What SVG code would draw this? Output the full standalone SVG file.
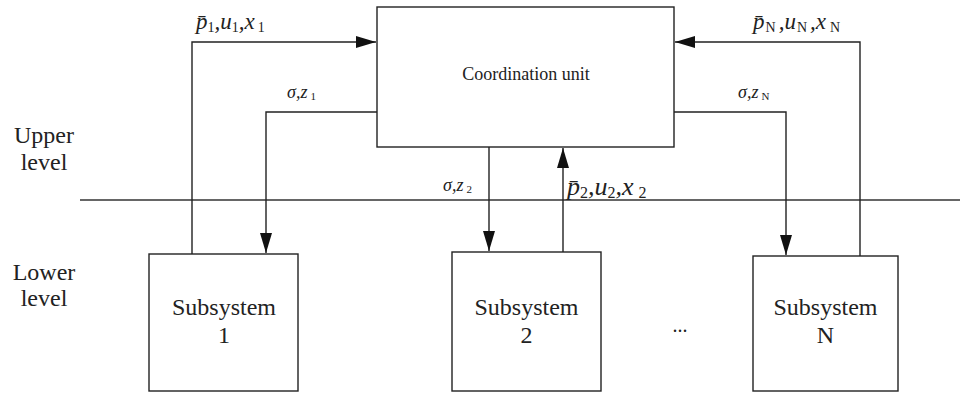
<svg xmlns="http://www.w3.org/2000/svg" width="960" height="393" viewBox="0 0 960 393">
<style>
.box{fill:#fff;stroke:#222;stroke-width:1.4}
.ln{fill:none;stroke:#222;stroke-width:1.4}
text{font-family:"Liberation Serif","Times New Roman",serif;fill:#222}
.lab{font-size:24px;text-anchor:middle}
.lvl{font-size:24px;text-anchor:middle}
.m{font-style:italic;font-size:23px}
.ms{font-style:italic;font-size:18px}
.sub{font-size:14px;font-style:normal}
.sub2{font-size:11px;font-style:normal}
</style>
<defs>
<marker id="ah" markerUnits="userSpaceOnUse" markerWidth="20" markerHeight="12" refX="20" refY="6" orient="auto">
<path d="M0,0 L20,6 L0,12 z" fill="#111"/>
</marker>
</defs>
<rect width="960" height="393" fill="#fff"/>
<g id="levels">
<text class="lvl" x="44" y="143">Upper</text>
<text class="lvl" x="44" y="170">level</text>
<text class="lvl" x="44" y="280">Lower</text>
<text class="lvl" x="44" y="306">level</text>
<line x1="80" y1="200" x2="960" y2="200" stroke="#333" stroke-width="1.4"/>
</g>
<g id="connectors">
<polyline class="ln" points="192,254 192,42 376,42" marker-end="url(#ah)"/>
<polyline class="ln" points="377,112 266,112 266,253" marker-end="url(#ah)"/>
<line class="ln" x1="489" y1="147" x2="489" y2="251" marker-end="url(#ah)"/>
<line class="ln" x1="563" y1="252" x2="563" y2="148" marker-end="url(#ah)"/>
<polyline class="ln" points="674,112 786,112 786,255" marker-end="url(#ah)"/>
<polyline class="ln" points="860,256 860,42 675,42" marker-end="url(#ah)"/>
</g>
<g id="labels">
<text class="m" x="196" y="29">p̄<tspan class="sub" dy="3">1</tspan><tspan dy="-3">,u</tspan><tspan class="sub" dy="3">1</tspan><tspan dy="-3">,x</tspan><tspan class="sub" dy="3" dx="3">1</tspan></text>
<text class="ms" x="287" y="98">σ,z<tspan class="sub2" dy="2" dx="3">1</tspan></text>
<text class="ms" x="443" y="191">σ,z<tspan class="sub2" dy="2" dx="3">2</tspan></text>
<text class="m" x="567" y="195" style="font-size:26px">p̄<tspan class="sub" dy="3" style="font-size:16px">2</tspan><tspan dy="-3">,u</tspan><tspan class="sub" dy="3" style="font-size:16px">2</tspan><tspan dy="-3">,x</tspan><tspan class="sub" dy="3" dx="5" style="font-size:16px">2</tspan></text>
<text class="ms" x="738" y="98">σ,z<tspan class="sub2" dy="2" dx="3">N</tspan></text>
<text class="m" x="753" y="29">p̄<tspan class="sub" dy="3" dx="1">N</tspan><tspan dy="-3" dx="3">,u</tspan><tspan class="sub" dy="3" dx="1">N</tspan><tspan dy="-3" dx="3">,x</tspan><tspan class="sub" dy="3" dx="4">N</tspan></text>
</g>
<g id="coordination">
<rect class="box" x="377" y="7" width="297" height="140"/>
<text class="lab" x="526" y="80" style="font-size:18px">Coordination unit</text>
</g>
<g id="subsystem1">
<rect class="box" x="149" y="254" width="149" height="137"/>
<text class="lab" x="224" y="315">Subsystem</text>
<text class="lab" x="224" y="343">1</text>
</g>
<g id="subsystem2">
<rect class="box" x="452" y="252" width="149" height="139"/>
<text class="lab" x="526.5" y="315">Subsystem</text>
<text class="lab" x="526.5" y="343">2</text>
</g>
<g id="dots">
<text x="680" y="332" font-size="20" text-anchor="middle">...</text>
</g>
<g id="subsystemN">
<rect class="box" x="753" y="256" width="145" height="135"/>
<text class="lab" x="825.5" y="315">Subsystem</text>
<text class="lab" x="825.5" y="343">N</text>
</g>
</svg>
